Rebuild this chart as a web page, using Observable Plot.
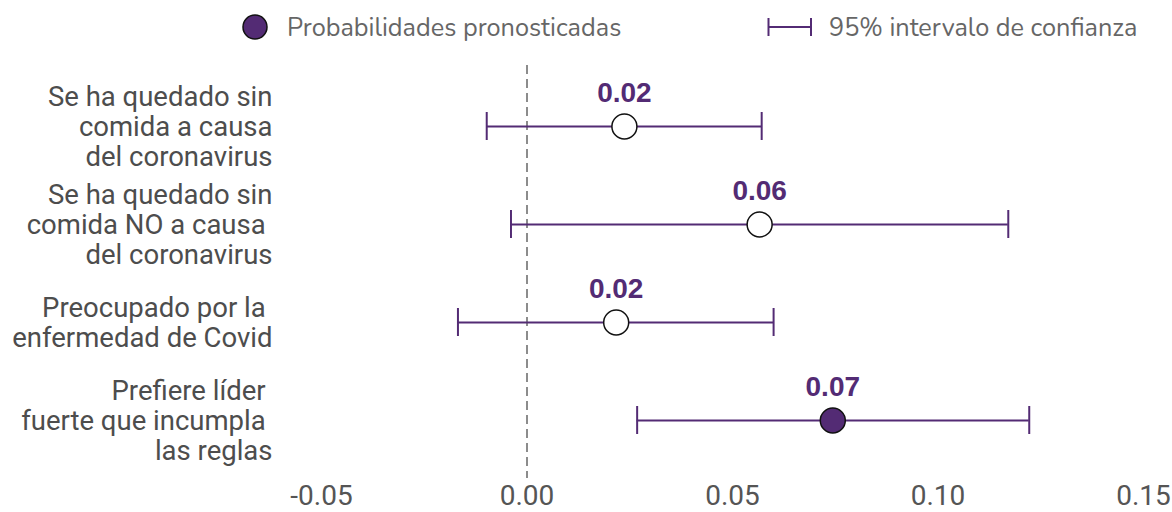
<!DOCTYPE html>
<html>
<head>
<meta charset="utf-8">
<script src="https://cdn.jsdelivr.net/npm/d3@7"></script>
<script src="https://cdn.jsdelivr.net/npm/@observablehq/plot@0.6"></script>
<style>
  html, body { margin: 0; padding: 0; background: #fff; }
  #legend { position: relative; width: 1172px; height: 55px; font-family: "Nunito", Lato, "Open Sans", sans-serif; color: #666; font-size: 25.3px; }
  #legend .item { position: absolute; top: 12px; display: flex; align-items: center; height: 30px; white-space: nowrap; }
  #chart svg text, #chart svg tspan { white-space: pre; }
</style>
</head>
<body>
<div id="legend"></div>
<div id="chart"></div>
<script>
const categories = [
  "Se ha quedado sin\ncomida a causa\ndel coronavirus",
  "Se ha quedado sin\ncomida NO a causa \ndel coronavirus",
  "Preocupado por la \nenfermedad de Covid",
  "Prefiere líder \nfuerte que incumpla \nlas reglas"
];
const estimates = [0.0237, 0.0566, 0.0217, 0.0744];
const lower = [-0.0098, -0.0039, -0.0168, 0.0268];
const upper = [0.0571, 0.1171, 0.0600, 0.1222];
const valueLabels = ["0.02", "0.06", "0.02", "0.07"];
const significant = [false, false, false, true];
const xTicks = [-0.05, 0, 0.05, 0.10, 0.15];
const legendLabels = ["Probabilidades pronosticadas", "95% intervalo de confianza"];

const purple = "#532b74";

const data = categories.map((c, i) => ({
  cat: c, est: estimates[i], lo: lower[i], hi: upper[i], label: valueLabels[i], sig: significant[i]
}));

// Legend
const legend = document.getElementById("legend");
legend.innerHTML = `
  <div class="item" style="left:242px">
    <svg width="28" height="28" style="margin-right:17px"><circle cx="13" cy="14" r="12" fill="${purple}" stroke="#111" stroke-width="1.5"/></svg>
    <span>${legendLabels[0]}</span>
  </div>
  <div class="item" style="left:767px">
    <svg width="46" height="28" style="margin-right:16px"><line x1="1.5" x2="44" y1="14" y2="14" stroke="${purple}" stroke-width="2"/><line x1="1.5" x2="1.5" y1="5" y2="23" stroke="${purple}" stroke-width="2"/><line x1="44" x2="44" y1="5" y2="23" stroke="${purple}" stroke-width="2"/></svg>
    <span>${legendLabels[1]}</span>
  </div>`;

const chart = Plot.plot({
  width: 1172,
  height: 457,
  marginLeft: 321,
  marginRight: 29,
  marginTop: 10,
  marginBottom: 34,
  style: { background: "#fff" },
  x: { domain: [-0.05, 0.15], ticks: xTicks },
  y: { type: "band", domain: categories, range: [55, 380], paddingInner: 0.717, paddingOuter: 0 },
  marks: [
    Plot.ruleX([0], { stroke: "#8c8c8c", strokeWidth: 2, strokeDasharray: "9,5" }),
    Plot.axisX({ ticks: xTicks, tickSize: 0, tickPadding: 7, fontSize: 28, tickFormat: d => d.toFixed(2), fontFamily: "Roboto, sans-serif", fill: "#555", label: null }),
    Plot.axisY({ tickSize: 0, tickPadding: 49, fontSize: 27.5, lineHeight: 1.09, fontFamily: "Roboto, sans-serif", fill: "#4d4d4d", label: null }),
    Plot.ruleY(data, { y: "cat", x1: "lo", x2: "hi", stroke: purple, strokeWidth: 2 }),
    Plot.tickX(data, { y: "cat", x: "lo", stroke: purple, strokeWidth: 2 }),
    Plot.tickX(data, { y: "cat", x: "hi", stroke: purple, strokeWidth: 2 }),
    Plot.dot(data, { y: "cat", x: "est", r: 12.5, fill: d => d.sig ? purple : "#fff", stroke: "#111", strokeWidth: 1.5 }),
    Plot.text(data, { y: "cat", x: "est", text: "label", dy: -33, fontSize: 28, fontWeight: "bold", fill: purple, fontFamily: "'Liberation Sans', Arial, sans-serif" })
  ]
});
document.getElementById("chart").appendChild(chart);
</script>
</body>
</html>
